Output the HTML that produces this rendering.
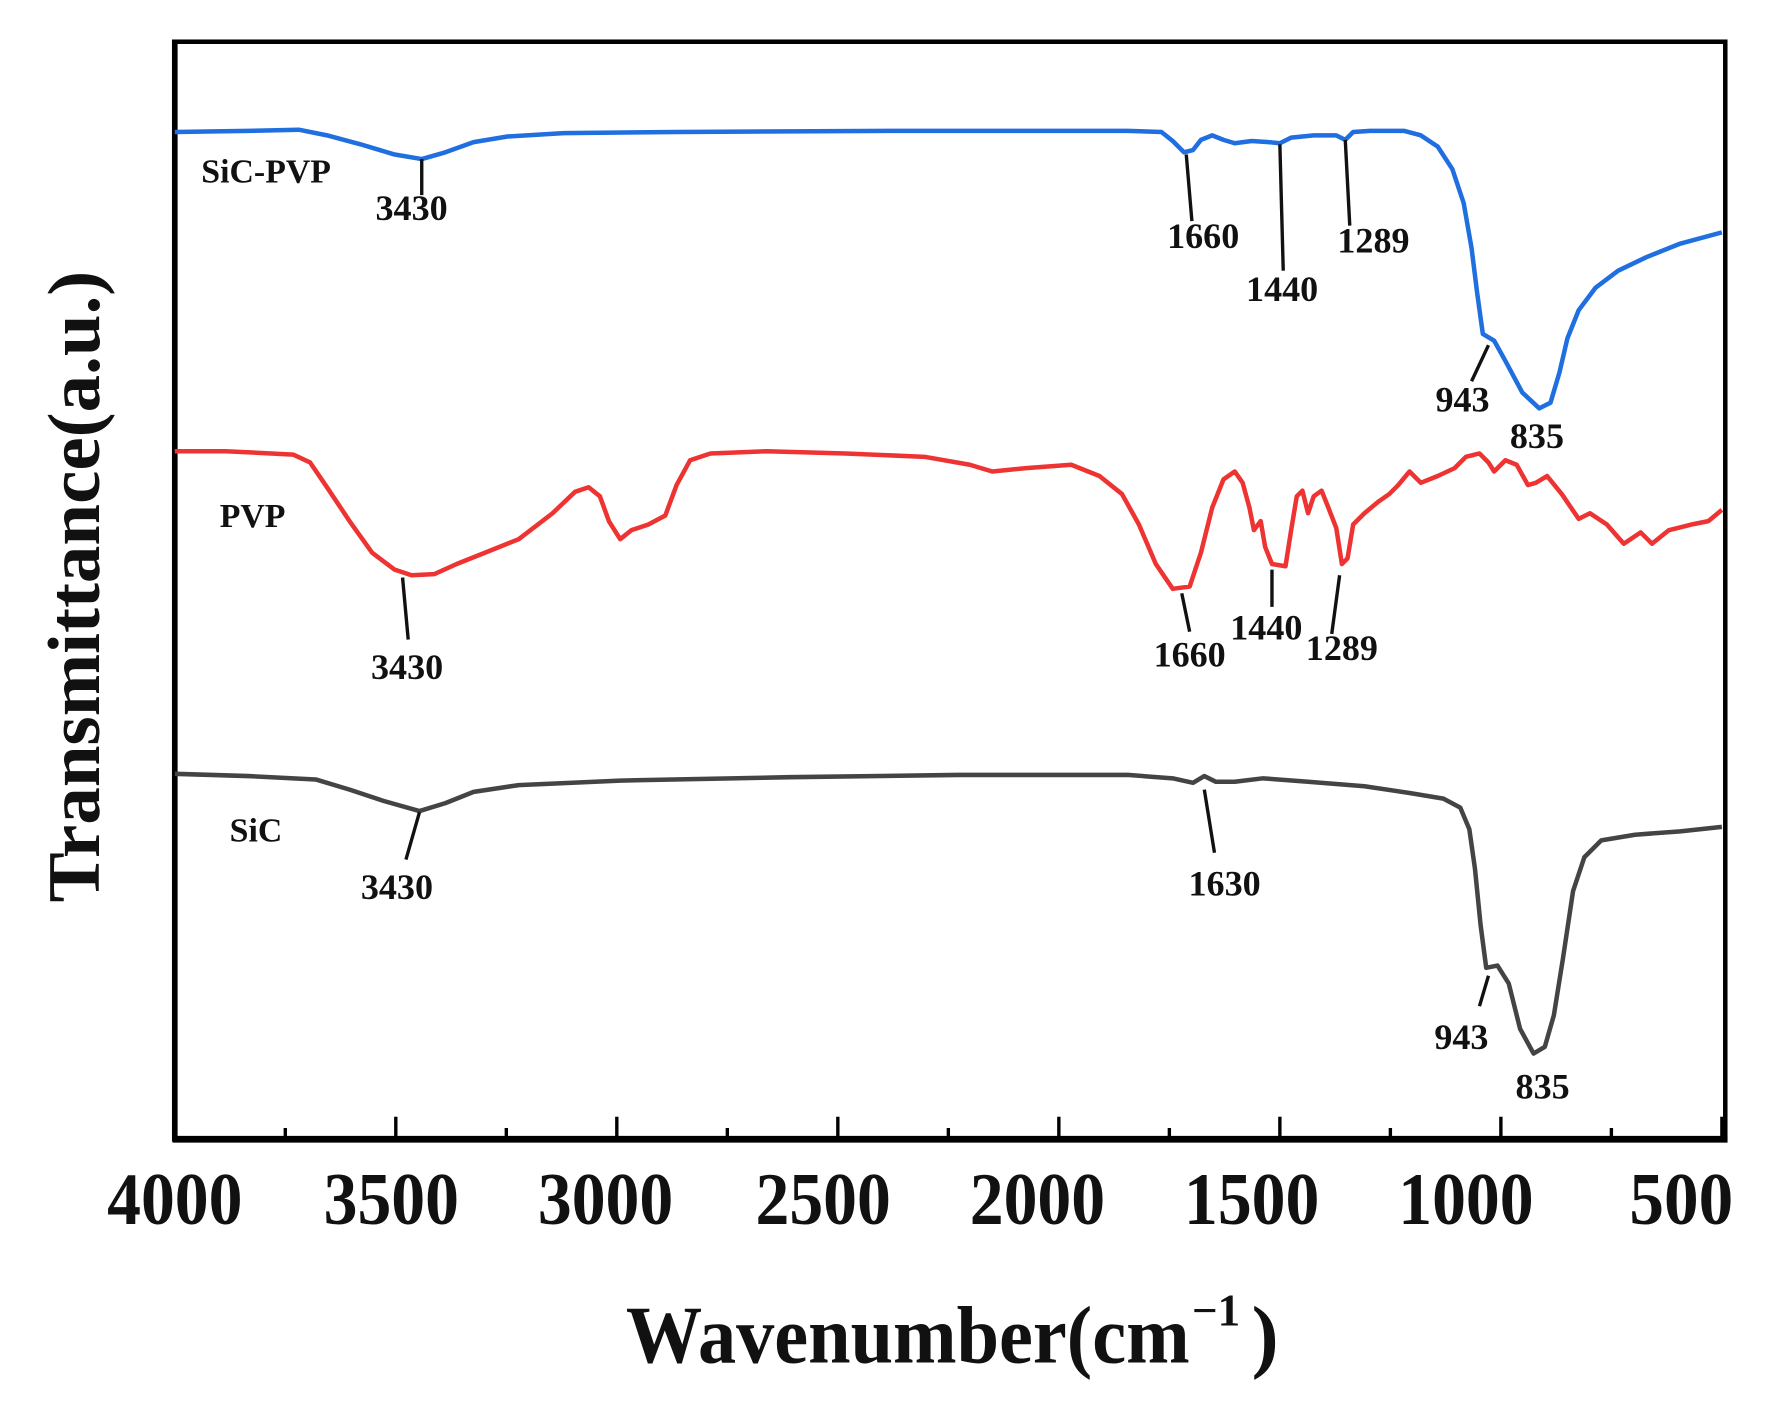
<!DOCTYPE html>
<html><head><meta charset="utf-8"><style>
html,body{margin:0;padding:0;background:#fff;}
svg{display:block;}
text{font-family:"Liberation Serif",serif;font-weight:bold;fill:#111;}
</style></head><body>
<svg width="1767" height="1410" viewBox="0 0 1567 1250" preserveAspectRatio="none" xmlns="http://www.w3.org/2000/svg">
<rect width="1567" height="1250" fill="#fff"/>
<rect x="155" y="37" width="1375" height="973" fill="none" stroke="#000" stroke-width="4"/>
<line x1="153" y1="1010" x2="1532" y2="1010" stroke="#000" stroke-width="6"/>
<line x1="155" y1="35" x2="155" y2="1012" stroke="#000" stroke-width="5"/>
<g stroke="#000" stroke-width="3">
<line x1="351" y1="1010" x2="351" y2="990"/><line x1="547" y1="1010" x2="547" y2="990"/>
<line x1="743" y1="1010" x2="743" y2="990"/><line x1="939" y1="1010" x2="939" y2="990"/>
<line x1="1135" y1="1010" x2="1135" y2="990"/><line x1="1331" y1="1010" x2="1331" y2="990"/>
<line x1="1527" y1="1010" x2="1527" y2="990"/>
<line x1="253" y1="1010" x2="253" y2="1000"/><line x1="449" y1="1010" x2="449" y2="1000"/>
<line x1="645" y1="1010" x2="645" y2="1000"/><line x1="841" y1="1010" x2="841" y2="1000"/>
<line x1="1037" y1="1010" x2="1037" y2="1000"/><line x1="1233" y1="1010" x2="1233" y2="1000"/>
<line x1="1429" y1="1010" x2="1429" y2="1000"/>
</g>
<g font-size="66" lengthAdjust="spacingAndGlyphs">
<text x="95" y="1085" textLength="120" lengthAdjust="spacingAndGlyphs">4000</text>
<text x="287" y="1085" textLength="120" lengthAdjust="spacingAndGlyphs">3500</text>
<text x="477" y="1085" textLength="120" lengthAdjust="spacingAndGlyphs">3000</text>
<text x="670" y="1085" textLength="120" lengthAdjust="spacingAndGlyphs">2500</text>
<text x="860" y="1085" textLength="120" lengthAdjust="spacingAndGlyphs">2000</text>
<text x="1050" y="1085" textLength="120" lengthAdjust="spacingAndGlyphs">1500</text>
<text x="1240" y="1085" textLength="120" lengthAdjust="spacingAndGlyphs">1000</text>
<text x="1445" y="1085" textLength="92" lengthAdjust="spacingAndGlyphs">500</text>
</g>
<text x="555" y="1208" font-size="72" textLength="500" lengthAdjust="spacingAndGlyphs">Wavenumber(cm</text>
<text x="1057" y="1175" font-size="40">−1</text>
<text x="1110" y="1208" font-size="72">)</text>
<text transform="translate(88,520) rotate(-90)" font-size="66" text-anchor="middle" textLength="560" lengthAdjust="spacingAndGlyphs">Transmittance(a.u.)</text>

<polyline fill="none" stroke="#1f6fe0" stroke-width="4" stroke-linejoin="round" points="155,117 220,116 265,115 290,120 320,128 350,137 374,141 395,135 420,126 450,121 500,118 600,117 800,116 1000,116 1030,117 1040,125 1050,135 1058,133 1065,124 1075,120 1085,124 1095,127 1110,125 1125,126 1135,127 1145,122 1165,120 1185,120 1193,124 1200,117 1215,116 1245,116 1260,120 1275,130 1288,150 1298,180 1305,220 1310,260 1315,296 1325,302 1335,320 1350,348 1365,362 1375,357 1383,330 1390,300 1400,275 1415,255 1435,240 1460,228 1490,216 1527,206"/>
<polyline fill="none" stroke="#ee3333" stroke-width="4" stroke-linejoin="round" points="155,400 200,400 260,403 275,410 290,432 310,462 330,490 350,505 365,510 385,509 405,500 430,490 460,478 490,455 510,436 522,432 532,440 540,462 550,478 560,470 575,465 590,457 600,430 612,408 630,402 680,400 750,402 820,405 860,412 880,418 910,415 950,412 975,422 995,438 1010,465 1025,500 1040,522 1055,520 1065,490 1075,450 1085,425 1095,418 1102,428 1108,450 1112,470 1118,462 1122,485 1128,500 1140,502 1145,470 1150,440 1155,435 1160,455 1165,440 1172,435 1178,450 1185,468 1190,500 1195,495 1200,465 1210,455 1222,445 1232,438 1240,430 1250,418 1260,428 1275,422 1290,415 1300,405 1312,402 1320,410 1325,418 1335,408 1345,412 1355,430 1362,428 1372,422 1385,438 1400,460 1410,455 1425,465 1440,482 1455,472 1465,482 1480,470 1500,465 1515,462 1527,452"/>
<polyline fill="none" stroke="#444" stroke-width="4" stroke-linejoin="round" points="155,686 220,688 280,691 310,700 340,710 372,719 395,712 420,702 460,696 550,692 700,689 850,687 1000,687 1040,690 1058,694 1068,688 1078,693 1095,693 1120,690 1160,693 1210,697 1250,703 1280,708 1295,716 1303,735 1308,770 1313,820 1318,858 1328,856 1338,872 1348,912 1360,934 1370,928 1378,900 1386,850 1395,790 1405,760 1420,745 1450,740 1490,737 1527,733"/>

<g stroke="#111" stroke-width="3">
<line x1="374" y1="141" x2="374" y2="173"/>
<line x1="1052" y1="137" x2="1057" y2="196"/>
<line x1="1135" y1="128" x2="1138" y2="240"/>
<line x1="1193" y1="124" x2="1197" y2="200"/>
<line x1="1320" y1="306" x2="1305" y2="338"/>
<line x1="357" y1="512" x2="362" y2="567"/>
<line x1="1048" y1="526" x2="1055" y2="560"/>
<line x1="1128" y1="505" x2="1128" y2="538"/>
<line x1="1188" y1="510" x2="1181" y2="562"/>
<line x1="372" y1="720" x2="360" y2="762"/>
<line x1="1068" y1="700" x2="1077" y2="756"/>
<line x1="1320" y1="865" x2="1312" y2="892"/>
</g>
<g font-size="32" text-anchor="middle">
<text x="236" y="162" font-size="30">SiC-PVP</text>
<text x="365" y="195">3430</text>
<text x="1067" y="220">1660</text>
<text x="1137" y="267">1440</text>
<text x="1218" y="224">1289</text>
<text x="1297" y="365">943</text>
<text x="1363" y="397">835</text>
<text x="224" y="467" font-size="30">PVP</text>
<text x="361" y="602">3430</text>
<text x="1055" y="591">1660</text>
<text x="1123" y="567">1440</text>
<text x="1190" y="585">1289</text>
<text x="227" y="746" font-size="30">SiC</text>
<text x="352" y="797">3430</text>
<text x="1086" y="794">1630</text>
<text x="1296" y="930">943</text>
<text x="1368" y="974">835</text>
</g>
</svg>
</body></html>
